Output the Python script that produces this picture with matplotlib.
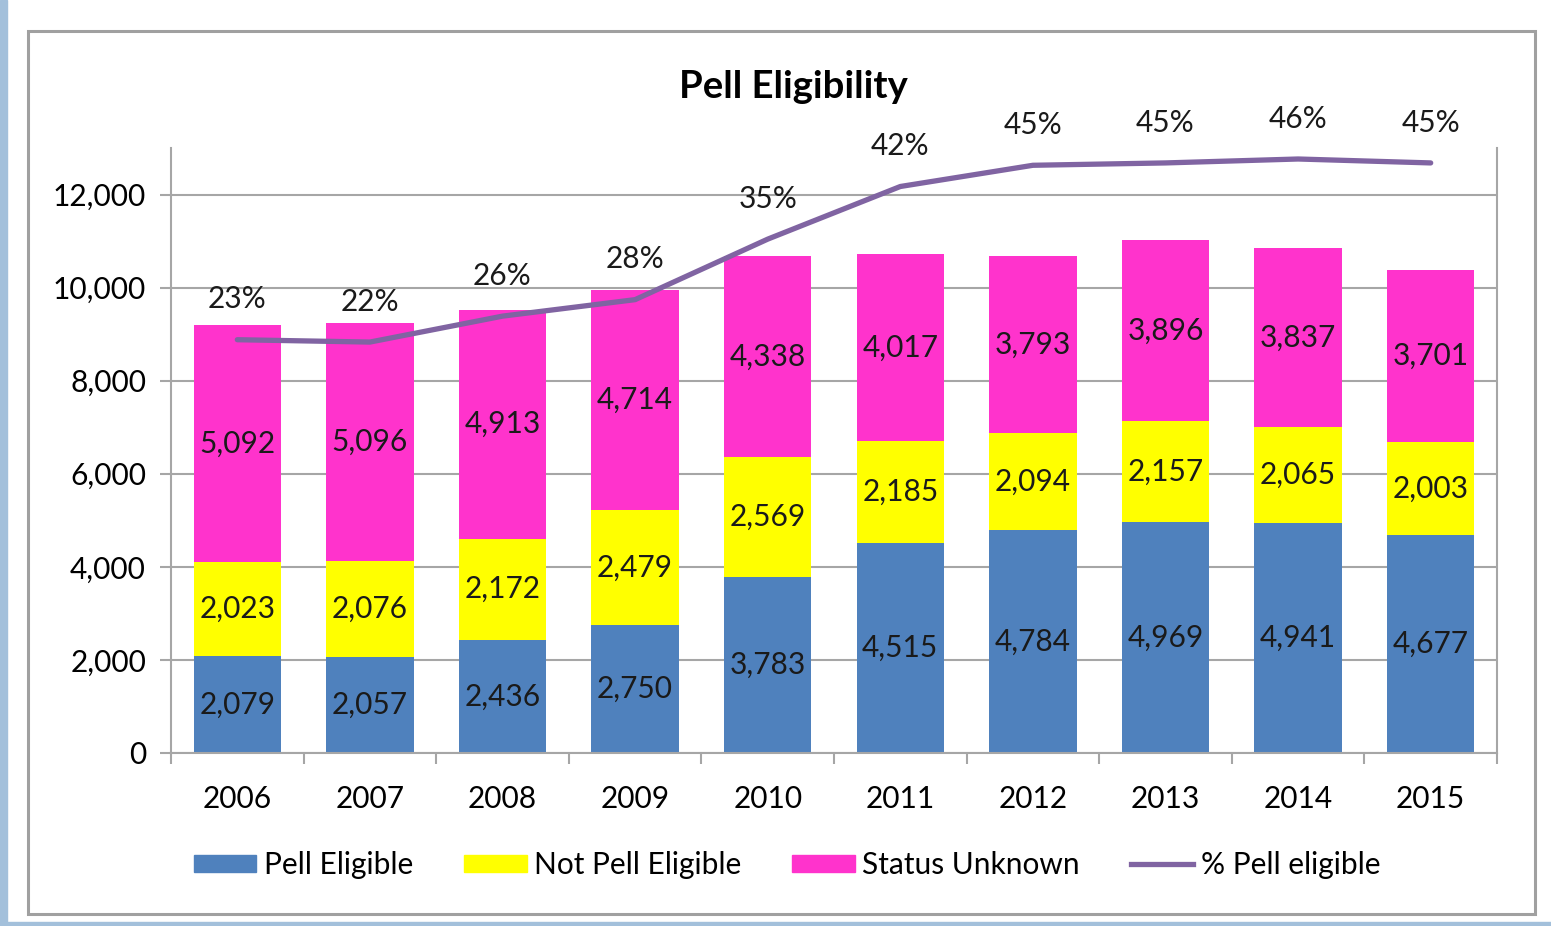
import numpy as np
import matplotlib
matplotlib.use("Agg")
import matplotlib.pyplot as plt
from matplotlib.patches import Rectangle
from matplotlib.lines import Line2D

plt.rcParams["font.family"] = ["Lato", "DejaVu Sans"]

# data
years = ["2006", "2007", "2008", "2009", "2010", "2011", "2012", "2013", "2014", "2015"]
pell = [2079, 2057, 2436, 2750, 3783, 4515, 4784, 4969, 4941, 4677]
not_pell = [2023, 2076, 2172, 2479, 2569, 2185, 2094, 2157, 2065, 2003]
unknown = [5092, 5096, 4913, 4714, 4338, 4017, 3793, 3896, 3837, 3701]
pct_pell = [22.6, 22.3, 25.6, 27.7, 35.4, 42.1, 44.8, 45.1, 45.6, 45.1]

c_blue = "#4f81bd"
c_yellow = "#ffff00"
c_pink = "#ff33cc"
c_purple = "#8064a2"
grid_c = "#a6a6a6"
fs = 21.5

W, H = 1551, 926
fig = plt.figure(figsize=(W / 100, H / 100), dpi=100)

# background: light blue strip at left and bottom, grey frame
fig.patches.append(Rectangle((0, 0), 7 / W, 1, transform=fig.transFigure,
                             color="#a3c0db", zorder=0))
fig.patches.append(Rectangle((0, 0), 1, 4 / H, transform=fig.transFigure,
                             color="#a3c0db", zorder=0))
fig.patches.append(Rectangle((28 / W, 1 - 914 / H), (1535 - 28) / W, (914 - 31) / H,
                             transform=fig.transFigure, fill=False,
                             edgecolor="#a0a0a0", lw=2.2, zorder=1))

ax = fig.add_axes([171 / W, 1 - 753 / H, (1497 - 171) / W, (753 - 148) / H])
x = np.arange(len(years))
bw = 0.66

b1 = ax.bar(x, pell, bw, color=c_blue, zorder=2)
b2 = ax.bar(x, not_pell, bw, bottom=pell, color=c_yellow, zorder=2)
bottom3 = np.array(pell) + np.array(not_pell)
b3 = ax.bar(x, unknown, bw, bottom=bottom3, color=c_pink, zorder=2)

for vals, bots in [(pell, np.zeros(len(x))),
                   (not_pell, np.array(pell)),
                   (unknown, bottom3)]:
    for xi, v, b in zip(x, vals, bots):
        ax.text(xi, b + v / 2, f"{v:,}", ha="center", va="center",
                fontsize=fs, color="#1a1a1a", zorder=3)

ax.set_xlim(-0.5, len(years) - 0.5)
ax.set_ylim(0, 13000)
ax.set_yticks(range(0, 12001, 2000))
ax.set_yticklabels([f"{v:,}" for v in range(0, 12001, 2000)])
ax.yaxis.grid(True, color=grid_c, lw=1.5, zorder=0)
ax.set_axisbelow(True)

ax.set_xticks(x)
ax.set_xticklabels(years)
ax.set_xticks(np.arange(-0.5, len(years), 1), minor=True)
ax.tick_params(axis="x", which="major", length=0, pad=23, labelsize=fs)
ax.tick_params(axis="x", which="minor", length=8, width=1.5, color=grid_c)
ax.tick_params(axis="y", length=8, width=1.5, color=grid_c, pad=10, labelsize=fs)

for s in ["left", "bottom", "right"]:
    ax.spines[s].set_color(grid_c)
    ax.spines[s].set_linewidth(1.5)
ax.spines["top"].set_visible(False)

ax2 = ax.twinx()
ax2.set_ylim(-30, 47)
ax2.set_yticks([])
for s in ax2.spines.values():
    s.set_visible(False)
ax2.plot(x, pct_pell, color=c_purple, lw=3.8, solid_capstyle="round", zorder=4)
for xi, p in zip(x, pct_pell):
    ax2.annotate(f"{p:.0f}%", (xi, p), xytext=(0, 29), textcoords="offset points",
                 ha="center", va="center", fontsize=fs, color="#1a1a1a")

fig.text(793 / W, 1 - 87 / H, "Pell Eligibility", ha="center", va="center",
         fontsize=27.5, fontweight="bold", color="black")

handles = [Rectangle((0, 0), 1, 1, color=c_blue),
           Rectangle((0, 0), 1, 1, color=c_yellow),
           Rectangle((0, 0), 1, 1, color=c_pink),
           Line2D([0], [0], color=c_purple, lw=3.8)]
labels = ["Pell Eligible", "Not Pell Eligible", "Status Unknown", "% Pell eligible"]
fig.legend(handles, labels, loc="center", bbox_to_anchor=(787 / W, 1 - 865 / H),
           ncol=4, frameon=False, fontsize=fs, handlelength=2.1, handleheight=0.5,
           handletextpad=0.25, columnspacing=1.7)

fig.savefig("out.png", dpi=100)
